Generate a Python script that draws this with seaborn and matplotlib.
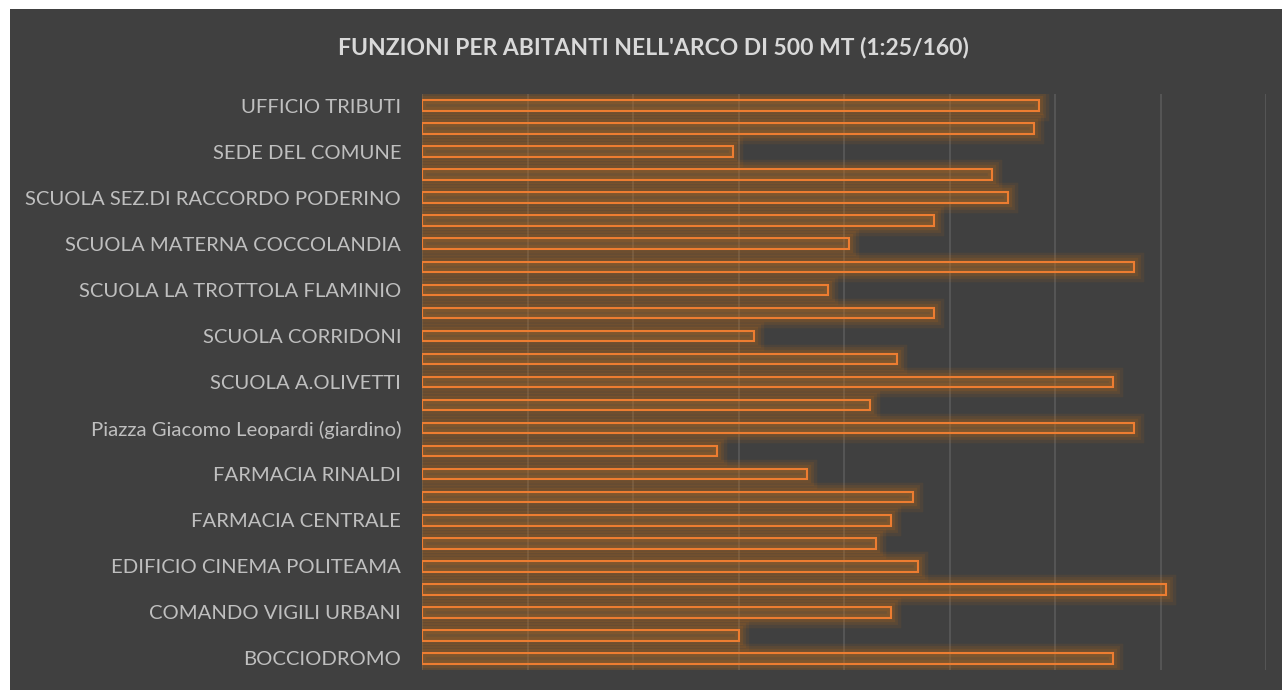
import matplotlib
matplotlib.use("Agg")
import matplotlib.pyplot as plt
from matplotlib.patches import Rectangle
import seaborn as sns
import pandas as pd

# top-to-bottom, Excel only shows every other category label
labels = [
    "UFFICIO TRIBUTI", "", "SEDE DEL COMUNE", "",
    "SCUOLA SEZ.DI RACCORDO PODERINO", "", "SCUOLA MATERNA COCCOLANDIA", "",
    "SCUOLA LA TROTTOLA FLAMINIO", "", "SCUOLA CORRIDONI", "",
    "SCUOLA A.OLIVETTI", "", "Piazza Giacomo Leopardi (giardino)", "",
    "FARMACIA RINALDI", "", "FARMACIA CENTRALE", "",
    "EDIFICIO CINEMA POLITEAMA", "", "COMANDO VIGILI URBANI", "",
    "BOCCIODROMO",
]
values = [
    117, 116, 59, 108, 111, 97, 81, 135, 77, 97, 63, 90, 131,
    85, 135, 56, 73, 93, 89, 86, 94, 141, 89, 60, 131,
]
x_max = 160
x_step = 20

bg = "#404040"
orange = "#ED7D31"
glow = "#C86E14"

df = pd.DataFrame({"row": [str(i) for i in range(len(values))], "value": values})

sns.set_style("dark")
plt.rcParams["font.family"] = ["Lato", "DejaVu Sans"]

fig = plt.figure(figsize=(12.82, 6.9), dpi=100, facecolor="white")
fig.add_artist(Rectangle((10 / 1282, 0), 1, 1 - 9 / 690, transform=fig.transFigure,
                         facecolor=bg, edgecolor="none", zorder=-5))
ax = fig.add_axes([422 / 1282, (690 - 670) / 690, (1266 - 422) / 1282, (670 - 94) / 690])
ax.set_facecolor(bg)

# soft glow around the bars
for lw, a in [(14, 0.10), (10, 0.12), (6, 0.16)]:
    sns.barplot(data=df, x="value", y="row", orient="h", width=0.46, fill=False,
                color=glow, linewidth=lw, ax=ax)
    for p in ax.patches[-len(values):]:
        p.set_alpha(a)
sns.barplot(data=df, x="value", y="row", orient="h", width=0.46,
            color=glow, linewidth=0, ax=ax)
for p in ax.patches[-len(values):]:
    p.set_alpha(0.25)
# crisp outline
sns.barplot(data=df, x="value", y="row", orient="h", width=0.46, fill=False,
            color=orange, linewidth=1.5, ax=ax)

ax.set_xlim(0, x_max)
ax.set_xticks(range(0, x_max + 1, x_step))
ax.set_xticklabels([])
ax.set_yticks(range(len(labels)))
ax.set_yticklabels(labels, color="#bfbfbf", fontsize=14.6)
ax.tick_params(axis="both", length=0)
ax.tick_params(axis="y", pad=15)
ax.set_xlabel("")
ax.set_ylabel("")
ax.grid(axis="x", color="#5a5a5a", linewidth=1.2)
ax.grid(axis="y", visible=False)
ax.set_axisbelow(True)
for s in ax.spines.values():
    s.set_visible(False)

fig.text(653 / 1282, 1 - 47 / 690, "FUNZIONI PER ABITANTI NELL'ARCO DI 500 MT (1:25/160)",
         ha="center", va="center", color="#d9d9d9", fontsize=16.5, fontweight="bold")

fig.savefig("out.png", dpi=100, facecolor=fig.get_facecolor())
